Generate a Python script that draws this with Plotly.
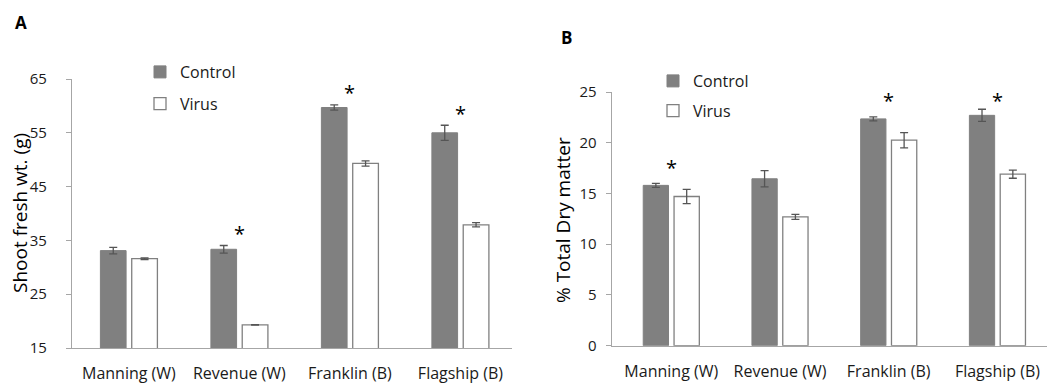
import plotly.graph_objects as go

W, H = 1051, 383

categories = ["Manning (W)", "Revenue (W)", "Franklin (B)", "Flagship (B)"]

# Panel A: shoot fresh weight (g)
fresh_control = [33.1, 33.35, 59.7, 55.0]
fresh_control_err = [0.6, 0.7, 0.5, 1.4]
fresh_virus = [31.6, 19.3, 49.3, 37.9]
fresh_virus_err = [0.15, 0.05, 0.5, 0.4]
fresh_sig_cats = ["Revenue (W)", "Franklin (B)", "Flagship (B)"]
fresh_sig_y = [37.1, 63.3, 59.3]
fresh_ticks = [15, 25, 35, 45, 55, 65]

# Panel B: % total dry matter
dry_control = [15.8, 16.45, 22.35, 22.7]
dry_control_err = [0.2, 0.8, 0.2, 0.6]
dry_virus = [14.7, 12.7, 20.25, 16.9]
dry_virus_err = [0.7, 0.25, 0.75, 0.4]
dry_sig_cats = ["Manning (W)", "Franklin (B)", "Flagship (B)"]
dry_sig_y = [18.0, 24.55, 24.6]
dry_ticks = [0, 5, 10, 15, 20, 25]

FONT = "Open Sans"
GRAY = "#808080"
ERR = "#555555"
AXIS = "#a6a6a6"


def px(x):
    return x / W


def py(y):
    return (H - y) / H


fig = go.Figure()

panels = [
    ("x", "y", "legend", fresh_control, fresh_control_err, fresh_virus, fresh_virus_err),
    ("x2", "y2", "legend2", dry_control, dry_control_err, dry_virus, dry_virus_err),
]
for i, (xa, ya, lg, c, ce, v, ve) in enumerate(panels):
    fig.add_trace(go.Bar(
        x=categories, y=c, name="Control", xaxis=xa, yaxis=ya, legend=lg,
        legendgroup=f"c{i}",
        marker=dict(color=GRAY, line=dict(color=GRAY, width=1)),
        error_y=dict(type="data", array=ce, color=ERR, thickness=1.3, width=4),
    ))
    fig.add_trace(go.Bar(
        x=categories, y=v, name="Virus", xaxis=xa, yaxis=ya, legend=lg,
        legendgroup=f"v{i}",
        marker=dict(color="white", line=dict(color=GRAY, width=1.3)),
        error_y=dict(type="data", array=ve, color=ERR, thickness=1.3, width=4),
    ))

tickfont = dict(family=FONT, size=15, color="#1a1a1a")
catfont = dict(family=FONT, size=16, color="#1a1a1a")

common_x = dict(showline=True, linecolor=AXIS, linewidth=1.3, ticks="",
                showgrid=False, zeroline=False, tickfont=catfont,
                ticklabelstandoff=11, fixedrange=True, automargin=False)
common_y = dict(showline=True, linecolor=AXIS, linewidth=1.3, ticks="outside",
                ticklen=5, tickcolor=AXIS, tickwidth=1.3, showgrid=False,
                zeroline=False, tickfont=tickfont, fixedrange=True, automargin=False)

annotations = []
for cat, yv in zip(fresh_sig_cats, fresh_sig_y):
    annotations.append(dict(x=cat, y=yv, xref="x", yref="y", text="*",
                            showarrow=False, font=dict(family=FONT, size=20, color="black"),
                            xanchor="center", yanchor="middle", yshift=-4))
for cat, yv in zip(dry_sig_cats, dry_sig_y):
    annotations.append(dict(x=cat, y=yv, xref="x2", yref="y2", text="*",
                            showarrow=False, font=dict(family=FONT, size=20, color="black"),
                            xanchor="center", yanchor="middle", yshift=-4))

annotations += [
    dict(x=px(20), y=py(213), xref="paper", yref="paper", text="Shoot fresh wt. (g)",
         textangle=-90, showarrow=False, xanchor="center", yanchor="middle",
         font=dict(family=FONT, size=19, color="black")),
    dict(x=px(563), y=py(220), xref="paper", yref="paper", text="% Total Dry matter",
         textangle=-90, showarrow=False, xanchor="center", yanchor="middle",
         font=dict(family=FONT, size=19, color="black")),
    dict(x=px(21), y=py(23), xref="paper", yref="paper", text="<b>A</b>",
         showarrow=False, xanchor="center", yanchor="middle",
         font=dict(family=FONT, size=17, color="black")),
    dict(x=px(566), y=py(37), xref="paper", yref="paper", text="<b>B</b>",
         showarrow=False, xanchor="center", yanchor="middle",
         font=dict(family=FONT, size=17, color="black")),
]

legfont = dict(family=FONT, size=16, color="#1a1a1a")

fig.update_layout(
    width=W, height=H,
    margin=dict(l=0, r=0, t=0, b=0, autoexpand=False),
    paper_bgcolor="white", plot_bgcolor="white",
    barmode="group", bargap=0.433, bargroupgap=0.18,
    showlegend=True,
    xaxis=dict(domain=[px(72), px(512)], range=[-0.515, 3.467], anchor="y", **common_x),
    yaxis=dict(domain=[py(348), py(79)], range=[15, 65], tickmode="array",
               tickvals=fresh_ticks, anchor="x", ticklabelstandoff=16, **common_y),
    xaxis2=dict(domain=[px(611.7), px(1047)], range=[-0.548, 3.456], anchor="y2", **common_x),
    yaxis2=dict(domain=[py(345.7), py(92)], range=[0, 25], tickmode="array",
                tickvals=dry_ticks, anchor="x2", ticklabelstandoff=6, **common_y),
    legend=dict(x=px(140), y=py(55), xanchor="left", yanchor="top", font=legfont,
                bgcolor="rgba(0,0,0,0)", tracegroupgap=8, traceorder="grouped"),
    legend2=dict(x=px(653), y=py(64), xanchor="left", yanchor="top", font=legfont,
                 bgcolor="rgba(0,0,0,0)", tracegroupgap=6, traceorder="grouped"),
    annotations=annotations,
)

fig.write_html("out.html")
